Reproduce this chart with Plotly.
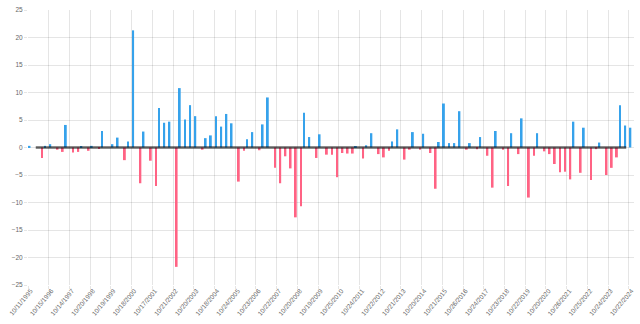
import plotly.graph_objects as go

# Quarterly values (one per category, oldest first)
values = [
    0.3, 0.0, -1.9, 0.3, 0.6, -0.4, -0.8, 4.1, -0.9, -0.8,
    0.1, -0.6, 0.3, -0.1, 3.0, 0.0, 0.6, 1.8, -2.3, 1.1,
    21.3, -6.5, 2.9, -2.4, -7.0, 7.2, 4.5, 4.7, -21.7, 10.8,
    5.1, 7.7, 5.7, -0.4, 1.7, 2.2, 5.7, 3.8, 6.1, 4.4,
    -6.2, -0.6, 1.5, 2.8, -0.5, 4.2, 9.1, -3.7, -6.5, -1.6,
    -3.8, -12.7, -10.7, 6.3, 1.9, -1.9, 2.4, -1.3, -1.3, -5.4,
    -1.0, -1.1, -1.1, 0.1, -2.0, 0.4, 2.6, -1.2, -1.8, -0.6,
    1.1, 3.3, -2.2, -0.4, 2.8, -0.4, 2.5, -1.0, -7.5, 1.0,
    8.0, 0.8, 0.8, 6.6, -0.4, 0.8, -0.3, 1.9, -1.5, -7.3,
    3.0, -0.4, -7.0, 2.6, -1.2, 5.3, -9.1, -1.5, 2.6, -0.7,
    -1.2, -3.0, -4.5, -4.4, -5.8, 4.7, -4.6, 3.6, -5.9, -0.3,
    0.9, -5.0, -3.7, -1.8, 7.7, 4.0, 3.6,
]

# Visible date labels (one every fourth category)
tick_labels = [
    "10/11/1995", "10/15/1996", "10/14/1997", "10/20/1998", "10/19/1999",
    "10/18/2000", "10/17/2001", "10/21/2002", "10/20/2003", "10/18/2004",
    "10/24/2005", "10/23/2006", "10/22/2007", "10/20/2008", "10/19/2009",
    "10/25/2010", "10/24/2011", "10/22/2012", "10/21/2013", "10/20/2014",
    "10/21/2015", "10/26/2016", "10/24/2017", "10/23/2018", "10/22/2019",
    "10/20/2020", "10/26/2021", "10/25/2022", "10/24/2023", "10/22/2024",
]
label_step = 4

n = len(values)
idx = list(range(n))
pos = [v if v > 0 else None for v in values]
neg = [v if v < 0 else None for v in values]

fig = go.Figure()
fig.add_trace(go.Bar(x=idx, y=pos, marker=dict(color="rgb(54,162,235)", line=dict(width=0)), showlegend=False))
fig.add_trace(go.Bar(x=idx, y=neg, marker=dict(color="rgb(255,99,132)", line=dict(width=0)), showlegend=False))
fig.add_trace(go.Scatter(x=idx[1:-1], y=[0] * (n - 2), mode="lines",
                         line=dict(color="rgba(0,0,0,0.6)", width=2.5), showlegend=False))

grid = "rgba(0,0,0,0.1)"
tickvals = list(range(0, n, label_step))
fig.update_layout(
    width=640, height=324,
    margin=dict(l=28, r=6, t=10, b=39),
    paper_bgcolor="white", plot_bgcolor="white",
    barmode="group", bargap=0.2, bargroupgap=0.1,
    font=dict(family="Liberation Sans, Arial, sans-serif", size=6.5, color="#666"),
    xaxis=dict(
        range=[-0.5, n - 0.5], tickmode="array", tickvals=tickvals, ticktext=tick_labels,
        tickangle=-50, showgrid=False, ticks="", zeroline=False, showline=False,
        minor=dict(tickmode="array", tickvals=[t - 0.5 for t in tickvals], showgrid=True,
                   gridcolor=grid, gridwidth=1, ticks="outside", ticklen=3, tickcolor=grid),
    ),
    yaxis=dict(
        range=[-25, 25], dtick=5, showgrid=True, gridcolor=grid, gridwidth=1,
        zeroline=False, showline=False, ticks="outside", ticklen=3, tickcolor=grid,
    ),
)

fig.write_html("out.html")
